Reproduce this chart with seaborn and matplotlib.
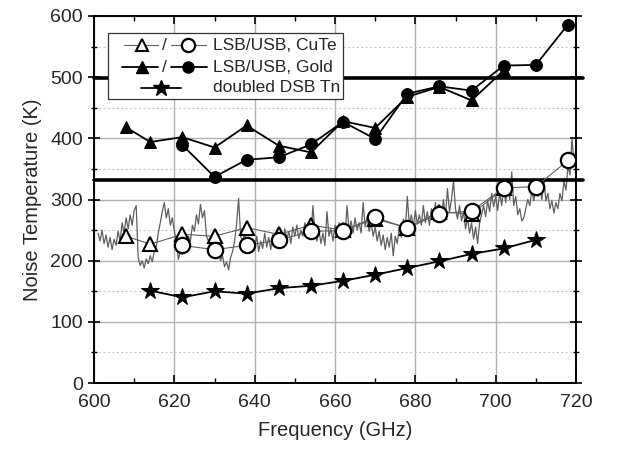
import numpy as np
import pandas as pd
import matplotlib
matplotlib.use("Agg")
import matplotlib.pyplot as plt
import seaborn as sns
from matplotlib.patches import Rectangle

# ---------------- data ----------------
gold_lsb_f = [608, 614, 622, 630, 638, 646, 654, 662, 670, 678, 686, 694, 702]
gold_lsb_T = [418, 394, 402, 385, 421, 388, 377, 428, 417, 468, 484, 462, 511]
gold_usb_f = [622, 630, 638, 646, 654, 662, 670, 678, 686, 694, 702, 710, 718]
gold_usb_T = [389, 337, 365, 369, 390, 427, 399, 473, 485, 478, 519, 520, 586]

cute_lsb_f = [608, 614, 622, 630, 638, 646, 654, 662, 670, 678, 686, 694, 702]
cute_lsb_T = [240, 227, 243, 240, 254, 243, 258, 250, 268, 254, 280, 276, 318]
cute_usb_f = [622, 630, 638, 646, 654, 662, 670, 678, 686, 694, 702, 710, 718]
cute_usb_T = [225, 218, 225, 234, 248, 249, 271, 253, 277, 281, 319, 321, 364]

dsb_f = [614, 622, 630, 638, 646, 654, 662, 670, 678, 686, 694, 702, 710]
dsb_T = [151, 140, 150, 146, 155, 159, 167, 177, 188, 199, 211, 220, 234]

ref_levels = [498, 332]

# continuous (swept) measurement, read at 0.5 GHz steps from 601 GHz
trace_T = [
    245, 232, 250, 228, 242, 222, 238, 218, 235, 225,
    248, 232, 262, 245, 270, 252, 275, 258, 282, 290,
    205, 192, 200, 188, 203, 195, 208, 198, 215, 222,
    245, 262, 280, 295, 270, 285, 258, 270, 248, 232,
    202, 215, 210, 228, 220, 240, 232, 258, 248, 275,
    260, 292, 270, 282, 240, 232, 238, 222, 228, 210,
    218, 200, 208, 190, 198, 185, 205, 215, 232, 260,
    302, 240, 232, 245, 225, 238, 218, 235, 222, 240,
    215, 232, 220, 245, 222, 238, 218, 242, 228, 250,
    225, 240, 230, 252, 235, 248, 228, 255, 240, 258,
    236, 250, 240, 262, 242, 255, 238, 290, 245, 232,
    250, 228, 245, 225, 280, 240, 252, 232, 258, 238,
    262, 242, 255, 240, 290, 248, 265, 245, 270, 250,
    262, 245, 295, 255, 272, 248, 262, 240, 255, 232,
    248, 225, 242, 218, 238, 222, 245, 208, 240, 228,
    255, 238, 268, 250, 305, 258, 275, 255, 282, 260,
    275, 258, 290, 262, 280, 258, 285, 265, 295, 268,
    288, 270, 300, 272, 318, 280, 300, 330, 285, 268,
    290, 265, 280, 252, 270, 245, 262, 235, 255, 228,
    262, 275, 290, 272, 298, 280, 310, 288, 305, 282,
    312, 290, 320, 295, 325, 300, 345, 290, 305, 275,
    285, 265, 270, 285, 300, 290, 315, 298, 320, 305,
    318, 300, 335, 298, 310, 285, 298, 278, 295, 285,
    310, 298, 330, 315, 355, 340, 400, 360, 385,
]
trace_f = 601.0 + 0.5 * np.arange(len(trace_T))

# ---------------- style ----------------
sns.set_theme(style="ticks")
plt.rcParams['font.family'] = ['Liberation Sans', 'DejaVu Sans']
plt.rcParams['axes.linewidth'] = 1.4

fig = plt.figure(figsize=(6.19, 4.51), dpi=100)
ax = fig.add_axes([94/619, 1-383/451, 482/619, 367/451])

# grid
ax.set_xlim(600, 720)
ax.set_ylim(0, 600)
ax.set_xticks(np.arange(600, 721, 20))
ax.set_yticks(np.arange(0, 601, 100))
ax.set_xticks(np.arange(600, 721, 10), minor=True)
ax.set_yticks(np.arange(0, 601, 50), minor=True)
ax.grid(which='major', color='#b0b0b0', linewidth=1.0, linestyle='-')
ax.grid(which='minor', axis='y', color='#c8c8c8', linewidth=0.8, linestyle=(0, (2, 2)))
ax.set_axisbelow(True)

# continuous trace
sns.lineplot(x=trace_f, y=trace_T, ax=ax, color='#5f5f5f', linewidth=0.9,
             estimator=None, sort=False, zorder=2)

# reference levels
for lv in ref_levels:
    ax.axhline(lv, xmin=0, xmax=1.015, color='black', linewidth=2.6, zorder=3,
               clip_on=False)

# CuTe
sns.lineplot(x=cute_lsb_f, y=cute_lsb_T, ax=ax, color='#606060', linewidth=0.8,
             marker='^', markersize=10, markerfacecolor='white',
             markeredgecolor='black', markeredgewidth=1.5, estimator=None, zorder=4)
sns.lineplot(x=cute_usb_f, y=cute_usb_T, ax=ax, color='#606060', linewidth=0.8,
             marker='o', markersize=11, markerfacecolor='white',
             markeredgecolor='black', markeredgewidth=1.6, estimator=None, zorder=5)

# Gold
sns.lineplot(x=gold_lsb_f, y=gold_lsb_T, ax=ax, color='black', linewidth=1.3,
             marker='^', markersize=9, markerfacecolor='black',
             markeredgecolor='black', estimator=None, zorder=4)
sns.lineplot(x=gold_usb_f, y=gold_usb_T, ax=ax, color='black', linewidth=1.3,
             marker='o', markersize=8.5, markerfacecolor='black',
             markeredgecolor='black', estimator=None, zorder=5)

# doubled DSB
sns.lineplot(x=dsb_f, y=dsb_T, ax=ax, color='black', linewidth=1.3,
             marker='*', markersize=13, markerfacecolor='black',
             markeredgecolor='black', estimator=None, zorder=5)

# ticks & spines
for s in ax.spines.values():
    s.set_visible(True)
    s.set_color('black')
    s.set_linewidth(1.4)
ax.tick_params(which='both', top=True, right=True, color='black')
ax.tick_params(axis='x', which='major', direction='in', length=6, width=1.2,
               labelsize=14, pad=8)
ax.tick_params(axis='x', which='minor', direction='in', length=3.5, width=1.0)
ax.tick_params(axis='y', which='major', direction='inout', length=8, width=1.2,
               labelsize=14, pad=4)
ax.tick_params(axis='y', which='minor', direction='inout', length=5, width=1.0)
ax.set_xlabel('Frequency (GHz)', fontsize=14.5, labelpad=7)
ax.set_ylabel('Noise Temperature (K)', fontsize=14.5, labelpad=6)

# legend (manual, to mimic the combined "△ / ○" entries)
def X(px):
    return (px - 94) / 482
def Y(py):
    return (383 - py) / 367
T = ax.transAxes
ax.add_patch(Rectangle((X(108), Y(99)), X(343) - X(108), Y(33) - Y(99),
                       transform=T, facecolor='white', edgecolor='#333333',
                       linewidth=0.9, zorder=10))
rows = [Y(45), Y(67), Y(88)]
# row 1: CuTe
ax.plot([X(124), X(158)], [rows[0]] * 2, transform=T, color='#606060', lw=0.8, zorder=11)
ax.plot([X(142)], [rows[0]], transform=T, marker='^', ms=9, mfc='white', mec='black',
        mew=1.5, zorder=12)
ax.plot([X(171), X(206)], [rows[0]] * 2, transform=T, color='#606060', lw=0.8, zorder=11)
ax.plot([X(188)], [rows[0]], transform=T, marker='o', ms=9.5, mfc='white', mec='black',
        mew=1.6, zorder=12)
ax.text(X(164), rows[0], '/', transform=T, ha='center', va='center', fontsize=12.5, zorder=12)
ax.text(X(213), rows[0], 'LSB/USB, CuTe', transform=T, ha='left', va='center',
        fontsize=12.5, zorder=12)
# row 2: Gold
ax.plot([X(122), X(158)], [rows[1]] * 2, transform=T, color='black', lw=1.3, zorder=11)
ax.plot([X(142)], [rows[1]], transform=T, marker='^', ms=8, mfc='black', mec='black', zorder=12)
ax.plot([X(171), X(207)], [rows[1]] * 2, transform=T, color='black', lw=1.3, zorder=11)
ax.plot([X(188)], [rows[1]], transform=T, marker='o', ms=8, mfc='black', mec='black', zorder=12)
ax.text(X(164), rows[1], '/', transform=T, ha='center', va='center', fontsize=12.5, zorder=12)
ax.text(X(213), rows[1], 'LSB/USB, Gold', transform=T, ha='left', va='center',
        fontsize=12.5, zorder=12)
# row 3: DSB
ax.plot([X(141), X(181)], [rows[2]] * 2, transform=T, color='black', lw=1.3, zorder=11)
ax.plot([X(161)], [rows[2]], transform=T, marker='*', ms=12, mfc='black', mec='black', zorder=12)
ax.text(X(213), rows[2], 'doubled DSB Tn', transform=T, ha='left', va='center',
        fontsize=12.5, zorder=12)

fig.savefig('out.png', dpi=100)
